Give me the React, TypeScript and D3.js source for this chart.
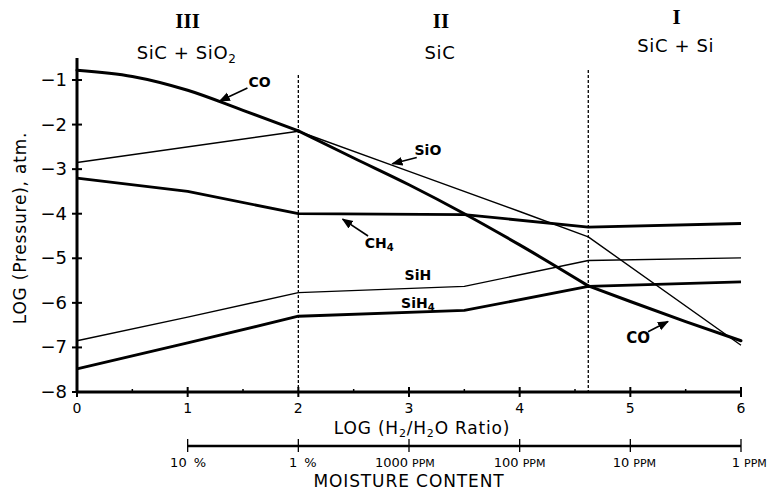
import React from "react";
import * as d3 from "d3";

// x = LOG (H2/H2O ratio), y = LOG (pressure, atm)
const coX = [0, 0.5, 1, 1.5, 2, 2.5, 3, 3.5, 4, 4.62, 5, 5.5, 6];
const coY = [-0.78, -0.92, -1.23, -1.68, -2.14, -2.75, -3.35, -4.0, -4.7, -5.62, -5.97, -6.42, -6.85];
const coBreaks = [2, 4.62];
const sioX = [0, 2, 3, 4, 4.62, 6];
const sioY = [-2.85, -2.15, -3.05, -3.95, -4.52, -6.95];
const ch4X = [0, 1, 2, 3.5, 4.62, 6];
const ch4Y = [-3.2, -3.5, -4.0, -4.02, -4.3, -4.22];
const sihX = [0, 1, 2, 3.5, 4.62, 6];
const sihY = [-6.85, -6.32, -5.77, -5.63, -5.05, -4.99];
const sih4X = [0, 1, 2, 3.5, 4.62, 6];
const sih4Y = [-7.48, -6.9, -6.3, -6.17, -5.63, -5.53];

const yTicks = [-1, -2, -3, -4, -5, -6, -7, -8];
const xTicks = [0, 1, 2, 3, 4, 5, 6];
const boundaries = [2, 4.62];
const moistureTicks = [1, 2, 3, 4, 5, 6];
const moistureNum = ["10", "1", "1000", "100", "10", "1"];
const moistureUnit = ["%", "%", "PPM", "PPM", "PPM", "PPM"];

const regions = [
  { roman: "III", phase: "SiC + SiO", sub: "2", x: 0.99 },
  { roman: "II", phase: "SiC", sub: "", x: 3.28 },
  { roman: "I", phase: "SiC + Si", sub: "", x: 5.41 },
];

const sans = "'DejaVu Sans', 'Liberation Sans', sans-serif";

export default function App() {
  const width = 772;
  const height = 493;
  const x = d3.scaleLinear().domain([0, 6]).range([77, 741]);
  const y = d3.scaleLinear().domain([-1, -8]).range([80, 392]);
  const line = d3
    .line<[number, number]>()
    .x((d) => x(d[0]))
    .y((d) => y(d[1]));
  const smooth = d3
    .line<[number, number]>()
    .x((d) => x(d[0]))
    .y((d) => y(d[1]))
    .curve(d3.curveMonotoneX);
  const pts = (xs: number[], ys: number[]) => xs.map((v, i) => [v, ys[i]] as [number, number]);

  const co = pts(coX, coY);
  const edges = [0, ...coBreaks, 6];
  const coSegments = edges.slice(1).map((e, i) => co.filter((p) => p[0] >= edges[i] && p[0] <= e));

  const series = [
    { d: pts(sioX, sioY), w: 1.4 },
    { d: pts(ch4X, ch4Y), w: 2.8 },
    { d: pts(sihX, sihY), w: 1.4 },
    { d: pts(sih4X, sih4Y), w: 2.8 },
  ];

  const halfTicks = d3.range(0.5, 6, 1);
  const mY = 446;

  const arrow = (x1: number, y1: number, x2: number, y2: number, key: string) => (
    <line key={key} x1={x(x1)} y1={y(y1)} x2={x(x2)} y2={y(y2)} stroke="#000" strokeWidth={1.6} markerEnd="url(#ah)" />
  );

  return (
    <svg width={width} height={height} style={{ position: "absolute", left: 0, top: 0, background: "#fff" }}>
      <defs>
        <marker id="ah" viewBox="0 0 10 10" refX="9" refY="5" markerWidth="7" markerHeight="7" orient="auto">
          <path d="M0,1 L10,5 L0,9 Z" fill="#000" />
        </marker>
      </defs>

      {/* region headers */}
      {regions.map((r, i) => (
        <g key={i} textAnchor="middle">
          <text x={x(r.x) + 1} y={i === 2 ? 24 : 28} fontFamily="'Liberation Serif', serif" fontWeight="bold" fontSize={21}>
            {r.roman}
          </text>
          <text x={x(r.x)} y={i === 2 ? 52 : 59} fontFamily={sans} fontSize={18} letterSpacing={0.6}>
            {r.phase}
            {r.sub && (
              <tspan fontSize={12} dy={4}>
                {r.sub}
              </tspan>
            )}
          </text>
        </g>
      ))}

      {/* boundaries */}
      {boundaries.map((b, i) => (
        <line key={i} x1={x(b)} x2={x(b)} y1={i === 0 ? 75 : 70} y2={y(-8)} stroke="#000" strokeWidth={1.3} strokeDasharray="3,2" />
      ))}

      {/* y axis */}
      <line x1={x(0)} x2={x(0)} y1={58} y2={y(-8)} stroke="#000" strokeWidth={3} />
      {yTicks.map((t) => (
        <g key={t}>
          <line x1={x(0) - 5} x2={x(0) + 5} y1={y(t)} y2={y(t)} stroke="#000" strokeWidth={2} />
          <text x={x(0) - 10} y={y(t) + 6} textAnchor="end" fontFamily={sans} fontSize={18}>
            {"\u2212" + Math.abs(t)}
          </text>
        </g>
      ))}
      <text
        transform={`translate(26,228) rotate(-90)`}
        textAnchor="middle"
        fontFamily={sans}
        fontSize={17}
        letterSpacing={0.8}
      >
        LOG (Pressure), atm.
      </text>

      {/* x axis */}
      <line x1={x(0)} x2={x(6)} y1={y(-8)} y2={y(-8)} stroke="#000" strokeWidth={3} />
      {xTicks.map((t) => (
        <g key={t}>
          <line x1={x(t)} x2={x(t)} y1={y(-8) - 5} y2={y(-8) + 5} stroke="#000" strokeWidth={2} />
          <text x={x(t)} y={y(-8) + 21} textAnchor="middle" fontFamily={sans} fontSize={14}>
            {t}
          </text>
        </g>
      ))}
      {halfTicks.map((t) => (
        <line key={t} x1={x(t)} x2={x(t)} y1={y(-8) - 3} y2={y(-8)} stroke="#000" strokeWidth={1.5} />
      ))}
      <text x={422} y={434} textAnchor="middle" fontFamily={sans} fontSize={17} letterSpacing={0.8}>
        LOG (H
        <tspan fontSize={11} dy={3}>2</tspan>
        <tspan dy={-3}>/H</tspan>
        <tspan fontSize={11} dy={3}>2</tspan>
        <tspan dy={-3}>O Ratio)</tspan>
      </text>

      {/* moisture axis */}
      <line x1={x(1)} x2={x(6)} y1={mY} y2={mY} stroke="#000" strokeWidth={2.5} />
      {moistureTicks.map((t, i) => (
        <g key={t} fontFamily={sans}>
          <line x1={x(t)} x2={x(t)} y1={mY - 7} y2={mY + 6} stroke="#000" strokeWidth={1.3} />
          <text x={x(t) - 1} y={mY + 21} textAnchor="end" fontSize={13}>
            {moistureNum[i]}
          </text>
          <text x={x(t) + (moistureUnit[i] === "%" ? 6 : 3)} y={mY + 21} textAnchor="start" fontSize={moistureUnit[i] === "%" ? 13 : 11}>
            {moistureUnit[i]}
          </text>
        </g>
      ))}
      <text x={409} y={487} textAnchor="middle" fontFamily={sans} fontSize={17} letterSpacing={0.9}>
        MOISTURE CONTENT
      </text>

      {/* curves */}
      {coSegments.map((s, i) => (
        <path key={"co" + i} d={smooth(s) || ""} fill="none" stroke="#000" strokeWidth={3} strokeLinecap="round" />
      ))}
      {series.map((s, i) => (
        <path key={i} d={line(s.d) || ""} fill="none" stroke="#000" strokeWidth={s.w} strokeLinejoin="round" />
      ))}

      {/* labels */}
      <g fontFamily={sans} fontSize={14} fontWeight="bold">
        <text x={x(1.55)} y={y(-1.16)}>CO</text>
        <text x={x(3.05)} y={y(-2.68)}>SiO</text>
        <text x={x(2.6)} y={y(-4.77)}>CH<tspan fontSize={10} dy={3}>4</tspan></text>
        <text x={x(3.08)} y={y(-5.49)} textAnchor="middle">SiH</text>
        <text x={x(3.08)} y={y(-6.12)} textAnchor="middle">SiH<tspan fontSize={10} dy={3}>4</tspan></text>
        <text x={x(5.07)} y={y(-6.9)} textAnchor="middle" fontSize={15}>CO</text>
      </g>
      {arrow(1.54, -1.18, 1.29, -1.47, "a1")}
      {arrow(3.07, -2.74, 2.85, -2.88, "a2")}
      {arrow(2.63, -4.5, 2.4, -4.12, "a3")}
      {arrow(5.16, -6.65, 5.34, -6.42, "a4")}
    </svg>
  );
}
